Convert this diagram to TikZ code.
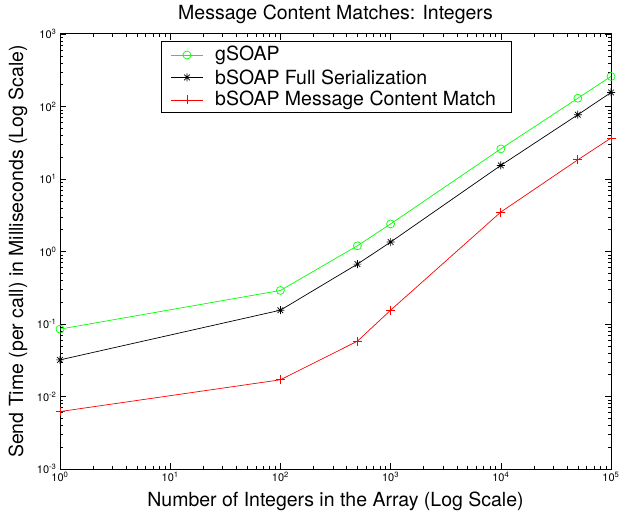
\documentclass[tikz,border=0pt]{standalone}
\usepackage{fontspec}
\setmainfont{TeX Gyre Heros}
\usepackage{tikz}
\usetikzlibrary{positioning}
\usepackage{pgfplots}
\pgfplotsset{compat=1.18}

% eight-ray asterisk as used by the plot
\pgfdeclareplotmark{starmark}{%
  \pgfpathmoveto{\pgfqpoint{-\pgfplotmarksize}{0pt}}\pgfpathlineto{\pgfqpoint{\pgfplotmarksize}{0pt}}%
  \pgfpathmoveto{\pgfqpoint{0pt}{-\pgfplotmarksize}}\pgfpathlineto{\pgfqpoint{0pt}{\pgfplotmarksize}}%
  \pgfpathmoveto{\pgfqpoint{-0.7071\pgfplotmarksize}{-0.7071\pgfplotmarksize}}\pgfpathlineto{\pgfqpoint{0.7071\pgfplotmarksize}{0.7071\pgfplotmarksize}}%
  \pgfpathmoveto{\pgfqpoint{-0.7071\pgfplotmarksize}{0.7071\pgfplotmarksize}}\pgfpathlineto{\pgfqpoint{0.7071\pgfplotmarksize}{-0.7071\pgfplotmarksize}}%
  \pgfusepathqstroke}

\begin{document}
\begin{tikzpicture}[
    x=1pt, y=1pt,
    bigtext/.style={font=\fontsize{19.5}{23}\selectfont, inner sep=0pt},
    gser/.style={draw=green, line width=0.7pt, mark=o, mark size=4pt, mark options={solid}},
    bser/.style={draw=black, line width=0.7pt, mark=starmark, mark size=4pt},
    rser/.style={draw=red, line width=0.7pt, mark=+, mark size=4.5pt}
]
    \useasboundingbox (0,0) rectangle (621,516);

    \begin{axis}[
        at={(60pt,47pt)}, anchor=south west,
        scale only axis, width=551pt, height=435pt,
        xmode=log, ymode=log,
        xmin=1, xmax=1e5, ymin=1e-3, ymax=1e3,
        axis line style={line width=1pt},
        major tick length=6pt, minor tick length=3pt,
        every tick/.style={black, line width=0.6pt},
        tick label style={font=\fontsize{11}{13}\selectfont},
        xtick={1,10,100,1000,10000,100000},
        xticklabels={10\textsuperscript{0},10\textsuperscript{1},10\textsuperscript{2},10\textsuperscript{3},10\textsuperscript{4},10\textsuperscript{5}},
        ytick={1e-3,1e-2,1e-1,1,10,100,1000},
        yticklabels={10\textsuperscript{-3},10\textsuperscript{-2},10\textsuperscript{-1},10\textsuperscript{0},10\textsuperscript{1},10\textsuperscript{2},10\textsuperscript{3}},
        clip=false
    ]
        \addplot[gser] coordinates {(1,0.085) (100,0.29) (500,1.2) (1000,2.4) (10000,26) (50000,130) (100000,260)};
        \addplot[bser] coordinates {(1,0.032) (100,0.155) (500,0.67) (1000,1.35) (10000,15.4) (50000,77) (100000,156)};
        \addplot[rser] coordinates {(1,0.0062) (100,0.017) (500,0.058) (1000,0.155) (10000,3.5) (50000,18.4) (100000,36.7)};
    \end{axis}

    % titles
    \node[bigtext] (title) at (335.5,502) {Message Content Matches: Integers};
    \node[bigtext] (xlab) at (335.5,15) {Number of Integers in the Array (Log Scale)};
    \node[bigtext, rotate=90] (ylab) at (18,264.5) {Send Time (per call) in Milliseconds (Log Scale)};

    % legend
    \node[draw, line width=0.8pt, fill=white, minimum width=350pt, minimum height=71pt, anchor=north west] (legend) at (161,475) {};
    \foreach \i/\yy/\sty/\txt in {1/461/gser/gSOAP, 2/438.5/bser/bSOAP Full Serialization, 3/416/rser/bSOAP Message Content Match} {
        \draw[\sty] (171,\yy) -- (203,\yy);
        \path[\sty] plot coordinates {(187,\yy)};
        \node[bigtext, anchor=west] (leg\i) at (215,\yy) {\txt};
    }
\end{tikzpicture}
\end{document}
